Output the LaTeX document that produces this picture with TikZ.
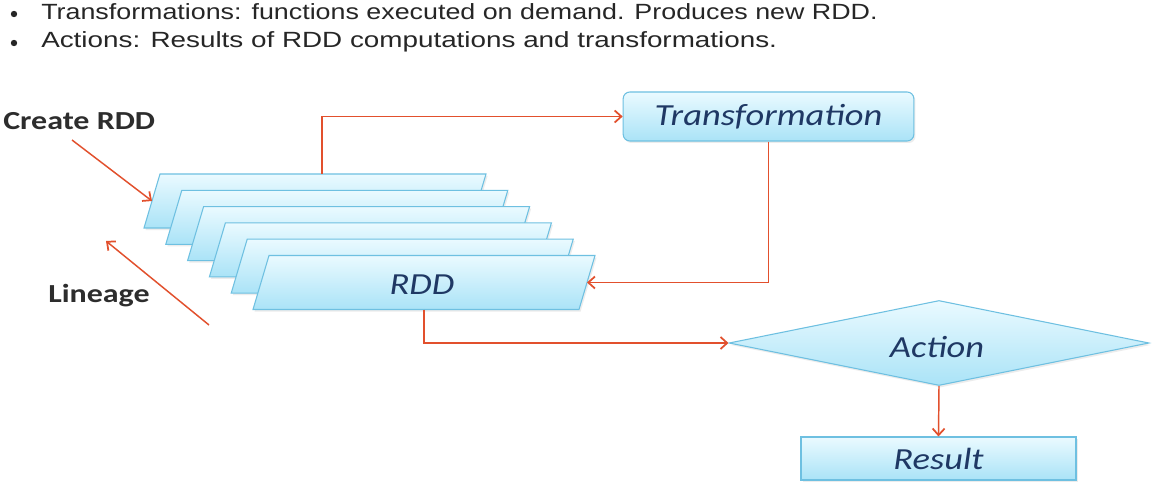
\documentclass[tikz,border=0pt]{standalone}
\usepackage{fontspec}
\setmainfont{Liberation Sans}
\newfontfamily\calfont{Carlito}
\usetikzlibrary{arrows.meta,shapes.geometric,shadows}
\definecolor{arrred}{RGB}{226,80,45}
\definecolor{navy}{RGB}{31,56,100}
\definecolor{bordc}{RGB}{110,192,225}
\definecolor{filltop}{RGB}{234,250,255}
\definecolor{fillbot}{RGB}{170,227,247}
\definecolor{labgray}{RGB}{45,45,45}
\tikzset{
  arr/.style={draw=arrred, line width=1.1pt, -{Straight Barb[length=5pt,width=9pt,line width=1.3pt]}},
  boxstyle/.style={draw=bordc, line width=0.8pt, top color=filltop, bottom color=fillbot,
     drop shadow={opacity=0.15, shadow xshift=1.2pt, shadow yshift=-1.5pt}},
  boxtext/.style={font=\calfont\itshape\fontsize{23pt}{26pt}\selectfont, text=navy},
  bullettext/.style={anchor=base west, inner sep=0pt, font=\fontsize{16.5pt}{19pt}\selectfont, text=black!85},
  bulletdot/.style={circle, fill=black!85, inner sep=0pt, minimum size=4.8pt},
  sidelabel/.style={anchor=base west, inner sep=0pt, font=\calfont\bfseries\fontsize{19.5pt}{22pt}\selectfont, text=labgray},
  rddpar/.pic={
    \path[boxstyle] (-155,-27) -- (171,-27) -- (155,27) -- (-171,27) -- cycle;
    \coordinate (-e) at (163,0);
    \coordinate (-w) at (-163,0);
    \coordinate (-s) at (0,27);
    \coordinate (-n) at (7,-27);
  }
}
\newcommand{\bx}[1]{\scalebox{1.19}[1]{#1}}
\begin{document}
\begin{tikzpicture}[x=0.75pt,y=-0.75pt]
\useasboundingbox[fill=white] (0,0) rectangle (1162,502);
% bullets
\node[bulletdot] (b1) at (14,14) {};
\node[bulletdot] (b2) at (14,43) {};
\node[bullettext] (l1) at (41,20) {\scalebox{1.22}[1]{Transformations: functions executed on demand. Produces new RDD.}};
\node[bullettext] (l2) at (41,48) {\scalebox{1.265}[1]{Actions: Results of RDD computations and transformations.}};
% RDD stack
\pic (p1) at (315,201) {rddpar};
\pic (p2) at (336.8,217.3) {rddpar};
\pic (p3) at (358.6,233.6) {rddpar};
\pic (p4) at (380.4,249.9) {rddpar};
\pic (p5) at (402.2,266.2) {rddpar};
\pic (p6) at (424,282.5) {rddpar};
\node[boxtext, inner sep=0pt] (rdd) at (422,285) {\bx{RDD}};
% other boxes
\node[boxstyle, boxtext, rounded corners=5pt, minimum width=218pt, minimum height=36.75pt, inner sep=0pt] (trans) at (768.5,116.5) {\bx{Transformation}};
\node[boxstyle, boxtext, diamond, minimum width=315pt, minimum height=63.75pt, inner sep=0pt] (act) at (939,343) {};
\node[boxtext, inner sep=0pt] (acttext) at (937,347) {\bx{Action}};
\node[boxstyle, boxtext, minimum width=206.25pt, minimum height=32.25pt, inner sep=0pt] (res) at (938.5,458.5) {\bx{Result}};
% labels
\node[sidelabel] (create) at (3,130) {\scalebox{1.23}[1]{Create RDD}};
\node[sidelabel] (lin) at (48,302) {\scalebox{1.23}[1]{Lineage}};
\coordinate (cstart) at (72,140);
\coordinate (lstart) at (209,325);
\coordinate (lend) at (106,241);
% connectors
\draw[arr] (cstart) -- (p1-w);
\draw[arr] (lstart) -- (lend);
\draw[arr] (p1-n) |- (trans.west);
\draw[arr] (trans.south) |- (p6-e);
\draw[arr] (p6-s) |- (act.west);
\draw[arr] (act.south) -- (res.north);
\end{tikzpicture}
\end{document}
